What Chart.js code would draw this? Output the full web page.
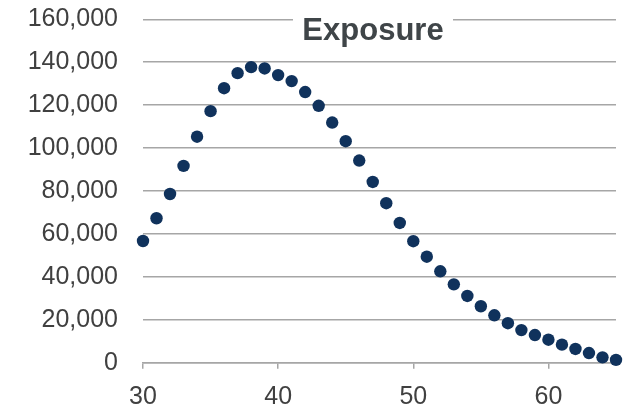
<!DOCTYPE html>
<html>
<head>
<meta charset="utf-8">
<script src="https://cdn.jsdelivr.net/npm/chart.js@4/dist/chart.umd.min.js"></script>
<style>
html,body{margin:0;padding:0;background:#fff;}
#wrap{position:relative;width:625px;height:407px;}
#title{position:absolute;left:293px;top:14px;width:160px;text-align:center;background:#fff;
  font:bold 31px "Liberation Sans",Arial,sans-serif;line-height:31px;color:#3f4548;height:32px;}
</style>
</head>
<body>
<div id="wrap">
<canvas id="c" width="625" height="407"></canvas>
<div id="title">Exposure</div>
</div>
<script>
const ages = [30,31,32,33,34,35,36,37,38,39,40,41,42,43,44,45,46,47,48,49,50,51,52,53,54,55,56,57,58,59,60,61,62,63,64,65];
const exposure = [56700,67300,78600,91700,105300,117200,127900,134900,137700,137100,134000,131200,126100,119700,111900,103200,94200,84200,74300,65100,56600,49400,42600,36500,31100,26300,22100,18400,15200,12900,10700,8400,6400,4500,2500,1300];
const xTicks = [30,40,50,60];
const yTicks = [0,20000,40000,60000,80000,100000,120000,140000,160000];

const FONT = '"Liberation Sans", Arial, sans-serif';
const grey = '#a6a6a6';

new Chart(document.getElementById('c'), {
  type: 'scatter',
  data: {
    datasets: [{
      data: ages.map((a,i)=>({x:a,y:exposure[i]})),
      backgroundColor: '#10325c',
      borderColor: '#10325c',
      pointRadius: 6.2,
      pointHoverRadius: 6.2,
      borderWidth: 0,
      clip: false
    }]
  },
  options: {
    responsive: false,
    animation: false,
    devicePixelRatio: 1,
    events: [],
    layout: { padding: { top: 19.3, right: 9, left: 0, bottom: 0 } },
    plugins: { legend: { display: false }, tooltip: { enabled: false }, title: { display: false } },
    scales: {
      x: {
        type: 'linear', min: 30, max: 65,
        afterBuildTicks: s => { s.ticks = xTicks.map(v=>({value:v})); },
        afterFit: s => { s.height = 44.3; },
        grid: { drawOnChartArea: false, drawTicks: true, tickLength: 6, color: grey, lineWidth: 1.5 },
        border: { display: true, color: grey, width: 1.5 },
        ticks: { padding: 13, color: '#404040', font: { family: FONT, size: 25 }, maxRotation: 0 }
      },
      y: {
        type: 'linear', min: 0, max: 160000,
        afterBuildTicks: s => { s.ticks = yTicks.map(v=>({value:v})); },
        afterFit: s => { s.width = 143; },
        grid: { drawTicks: true, tickLength: 25, tickColor: 'rgba(0,0,0,0)', color: grey, lineWidth: 1.5 },
        border: { display: false },
        ticks: { padding: 0, color: '#404040', font: { family: FONT, size: 25 },
          callback: v => Number(v).toLocaleString('en-US') }
      }
    }
  }
});
</script>
</body>
</html>
